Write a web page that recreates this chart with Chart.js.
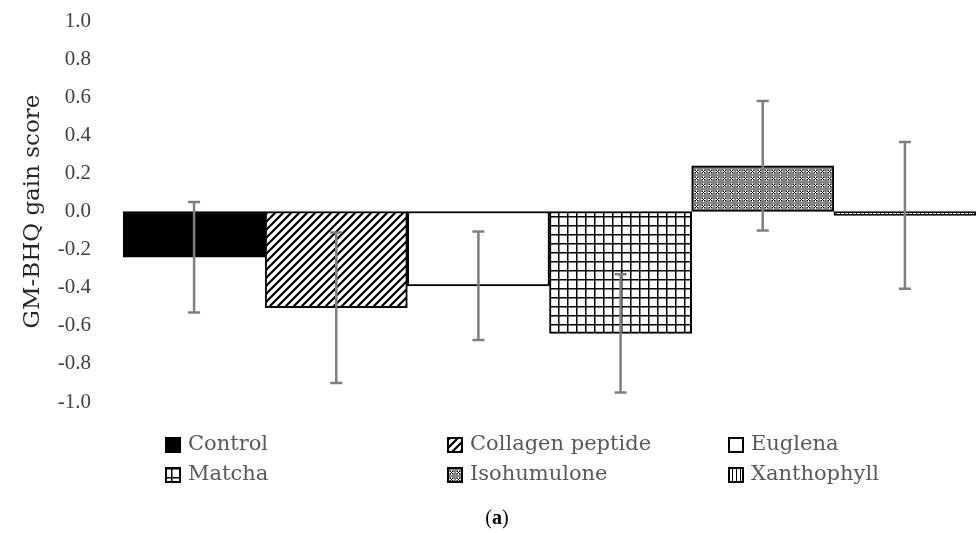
<!DOCTYPE html>
<html>
<head>
<meta charset="utf-8">
<script src="https://cdn.jsdelivr.net/npm/chart.js@4.4.1/dist/chart.umd.min.js"></script>
<style>
  html, body { margin: 0; padding: 0; background: #fff; }
  #wrap { width: 979px; height: 533px; }
</style>
</head>
<body>
<div id="wrap"><canvas id="canvas" width="979" height="533"></canvas></div>
<script>
"use strict";

const categories = ['Control', 'Collagen peptide', 'Euglena', 'Matcha', 'Isohumulone', 'Xanthophyll'];
const gainScores = [-0.24, -0.505, -0.39, -0.64, 0.24, -0.02];
const gainSD = [0.29, 0.395, 0.285, 0.31, 0.34, 0.385];
const fillKinds = ['solid', 'diagonal', 'white', 'grid', 'dots', 'vertical'];
const yTicks = [-1.0, -0.8, -0.6, -0.4, -0.2, 0.0, 0.2, 0.4, 0.6, 0.8, 1.0];

// small repeating tiles for the bar fills
function makeFill(kind) {
    if (kind === 'solid') return '#000000';
    if (kind === 'white') return '#ffffff';
    const tile = document.createElement('canvas');
    const t = tile.getContext('2d');
    let size = 8;
    if (kind === 'grid') size = 9;
    if (kind === 'dots') size = 7;
    if (kind === 'vertical') size = 4;
    tile.width = size;
    tile.height = size;
    t.fillStyle = '#fff';
    t.fillRect(0, 0, size, size);
    t.strokeStyle = '#000';
    if (kind === 'diagonal') {
        t.lineWidth = 2.2;
        t.beginPath();
        t.moveTo(-2, size + 2); t.lineTo(size + 2, -2);
        t.moveTo(-2, 2); t.lineTo(2, -2);
        t.moveTo(size - 2, size + 2); t.lineTo(size + 2, size - 2);
        t.stroke();
    } else if (kind === 'grid') {
        t.fillStyle = '#000';
        t.fillRect(0, 0, 1.5, size);
        t.fillRect(0, 0, size, 1.5);
    } else if (kind === 'dots') {
        t.fillStyle = '#858585';
        t.fillRect(0, 0, size, size);
        const cluster = [[3, 1, '#fff'], [2, 2, '#000'], [3, 2, '#fff'], [4, 2, '#000'],
            [1, 3, '#fff'], [2, 3, '#fff'], [3, 3, '#000'], [4, 3, '#fff'], [5, 3, '#fff'],
            [2, 4, '#000'], [3, 4, '#fff'], [4, 4, '#000'], [3, 5, '#fff']];
        cluster.forEach(function (c) {
            t.fillStyle = c[2];
            t.fillRect(c[0], c[1], 1, 1);
        });
    } else if (kind === 'vertical') {
        t.fillStyle = '#000';
        t.fillRect(0, 0, 1, size);
    }
    return t.createPattern(tile, 'repeat');
}

const fills = fillKinds.map(makeFill);

const extras = {
    id: 'extras',
    afterDatasetsDraw(chart) {
        const ctx = chart.ctx;
        const x = chart.scales.x, y = chart.scales.y;
        ctx.save();
        ctx.strokeStyle = '#7f7f7f';
        ctx.lineWidth = 2.5;
        gainScores.forEach(function (v, i) {
            const cx = x.getPixelForValue(i);
            const top = y.getPixelForValue(v + gainSD[i]);
            const bot = y.getPixelForValue(v - gainSD[i]);
            ctx.beginPath();
            ctx.moveTo(cx, top); ctx.lineTo(cx, bot);
            ctx.moveTo(cx - 6, top); ctx.lineTo(cx + 6, top);
            ctx.moveTo(cx - 6, bot); ctx.lineTo(cx + 6, bot);
            ctx.stroke();
        });
        ctx.restore();
    },
    afterDraw(chart) {
        const ctx = chart.ctx;
        const area = chart.chartArea;
        ctx.save();
        // legend: 3 columns, 2 rows
        const colX = [area.left + 42, area.left + 324, area.left + 605];
        const rowY = [437, 467];
        ctx.font = '21px "DejaVu Serif"';
        ctx.textBaseline = 'middle';
        categories.forEach(function (label, i) {
            const bx = colX[i % 3], by = rowY[Math.floor(i / 3)];
            ctx.fillStyle = fills[i];
            ctx.fillRect(bx, by, 16, 16);
            ctx.strokeStyle = '#000';
            ctx.lineWidth = 2;
            ctx.strokeRect(bx + 1, by + 1, 14, 14);
            ctx.fillStyle = '#595959';
            ctx.fillText(label, bx + 23, by + 8);
        });
        // caption (a)
        ctx.fillStyle = '#000';
        ctx.textBaseline = 'alphabetic';
        ctx.font = '20px "Liberation Serif"';
        const p1 = ctx.measureText('(').width;
        ctx.font = 'bold 20px "Liberation Serif"';
        const a = ctx.measureText('a').width;
        const cx = 497 - (p1 * 2 + a) / 2;
        ctx.font = '20px "Liberation Serif"';
        ctx.fillText('(', cx, 524);
        ctx.font = 'bold 20px "Liberation Serif"';
        ctx.fillText('a', cx + p1, 524);
        ctx.font = '20px "Liberation Serif"';
        ctx.fillText(')', cx + p1 + a, 524);
        ctx.restore();
    }
};

const ctx = document.getElementById('canvas').getContext('2d');
window.myBar = new Chart(ctx, {
    type: 'bar',
    data: {
        labels: categories,
        datasets: [{
            label: 'GM-BHQ gain score',
            data: gainScores,
            backgroundColor: fills,
            borderColor: '#000',
            borderWidth: 2,
            borderSkipped: false,
            categoryPercentage: 1,
            barPercentage: 1
        }]
    },
    options: {
        responsive: false,
        animation: false,
        devicePixelRatio: 1,
        layout: {
            padding: { left: 19, right: 3, top: 21, bottom: 131 }
        },
        plugins: {
            legend: { display: false },
            tooltip: { enabled: false }
        },
        scales: {
            x: {
                display: false
            },
            y: {
                min: -1,
                max: 1,
                afterBuildTicks: function (scale) {
                    scale.ticks = yTicks.map(v => ({ value: v }));
                },
                afterFit: function (scale) {
                    scale.width = 104;
                    scale.paddingTop = 0;
                    scale.paddingBottom = 0;
                },
                border: { display: false },
                grid: { display: false, drawTicks: false },
                ticks: {
                    padding: 32,
                    color: '#404040',
                    font: { family: 'Liberation Serif', size: 21 },
                    callback: function (v) {
                        return Math.abs(v) < 1e-9 ? '0.0' : Number(v).toFixed(1);
                    }
                },
                title: {
                    display: true,
                    text: 'GM-BHQ gain score',
                    color: '#262626',
                    font: { family: 'DejaVu Serif', size: 23 },
                    padding: { top: 0, bottom: 0 }
                }
            }
        }
    },
    plugins: [extras]
});
</script>
</body>
</html>
